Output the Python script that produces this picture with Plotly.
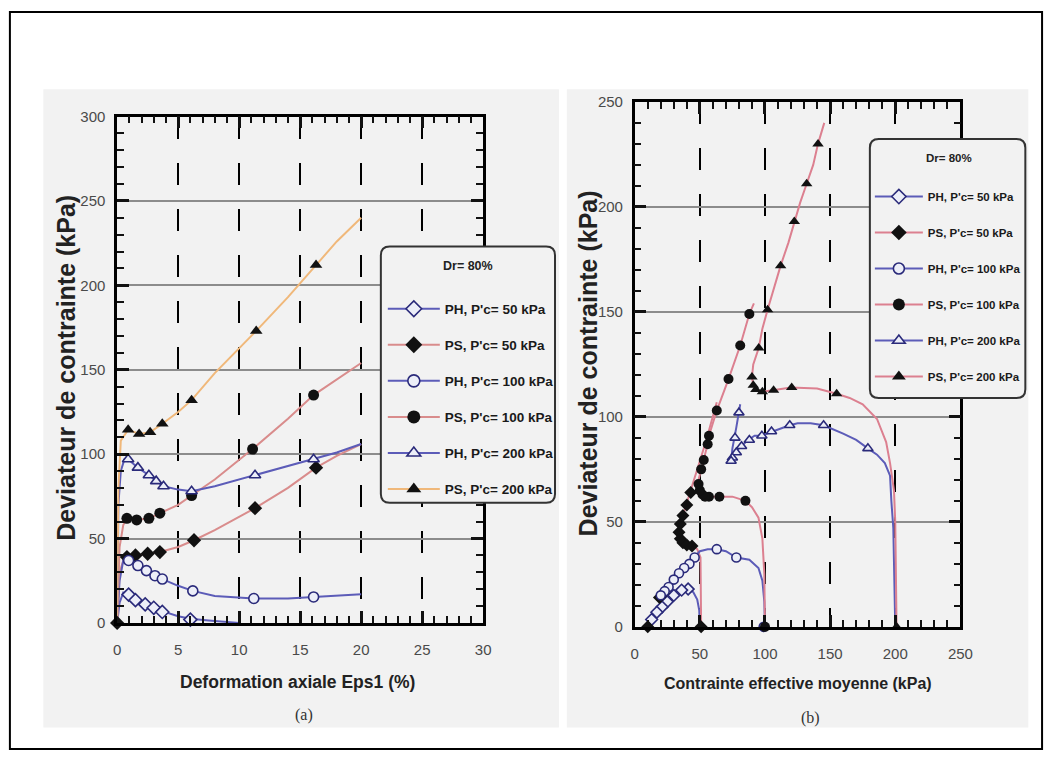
import plotly.graph_objects as go

W, H = 1059, 760

# ---------------- Panel (a): axial strain (%) vs deviator stress (kPa) ----------------
a_ph50_line_x = [0, 0.2, 0.5, 0.94, 1.5, 2.3, 3.0, 3.7, 5.0, 6.0, 7.5, 8.5, 10.0]
a_ph50_line_y = [0, 12, 18, 16.8, 14, 11.5, 9.5, 7, 4, 2.5, 1.5, 0.8, 0]
a_ph50_pts_x = [0.94, 1.5, 2.3, 3.0, 3.7, 6.0]
a_ph50_pts_y = [16.8, 13.5, 11, 9, 6.5, 2]

a_ps50_line_x = [0, 0.2, 0.5, 0.8, 1.5, 2.5, 3.5, 5.0, 6.3, 8.0, 11.3, 14.0, 16.3, 18.0, 20.0]
a_ps50_line_y = [0, 30, 37, 39, 40, 41, 42, 45, 49, 55, 68, 80, 92, 99, 106]
a_ps50_pts_x = [0, 0.8, 1.5, 2.5, 3.5, 6.3, 11.3, 16.3]
a_ps50_pts_y = [0, 39, 40, 41, 42, 49, 68, 92]

a_ph100_line_x = [0, 0.2, 0.5, 0.94, 1.7, 2.4, 3.1, 3.7, 5.0, 6.2, 8.0, 11.2, 14.0, 16.1, 18.0, 20.0]
a_ph100_line_y = [0, 25, 37, 37, 34, 31, 28, 26, 22, 19, 16, 14.5, 14.5, 15.4, 16, 17]
a_ph100_pts_x = [0.94, 1.7, 2.4, 3.1, 3.7, 6.2, 11.2, 16.1]
a_ph100_pts_y = [37, 34, 31, 28, 26, 19, 14.5, 15.4]

a_ps100_line_x = [0, 0.2, 0.5, 0.8, 1.6, 2.6, 3.5, 5.0, 6.1, 8.0, 11.1, 14.0, 16.1, 18.0, 20.0]
a_ps100_line_y = [0, 45, 58, 62, 61, 62, 65, 70, 75.5, 85, 103, 121, 135, 144, 154]
a_ps100_pts_x = [0.8, 1.6, 2.6, 3.5, 6.1, 11.1, 16.1]
a_ps100_pts_y = [62, 61, 62, 65, 75.5, 103, 135]

a_ph200_line_x = [0, 0.1, 0.3, 0.6, 0.9, 1.7, 2.6, 3.8, 5.0, 6.1, 8.0, 11.3, 14.0, 16.1, 18.0, 20.0]
a_ph200_line_y = [0, 70, 90, 97, 97, 92, 87.5, 81, 79, 78, 81, 87.5, 93, 97, 101, 106]
a_ph200_pts_x = [0.9, 1.7, 2.6, 3.2, 3.8, 6.1, 11.3, 16.1]
a_ph200_pts_y = [97, 92, 87.5, 84, 81, 78, 87.5, 97]

a_ps200_line_x = [0, 0.1, 0.3, 0.9, 1.8, 2.7, 3.7, 5.0, 6.1, 8.0, 11.4, 14.0, 16.3, 18.0, 20.0]
a_ps200_line_y = [0, 80, 108, 114.5, 112, 113, 118, 125, 132, 148, 173, 193, 212, 226, 240]
a_ps200_pts_x = [0.9, 1.8, 2.7, 3.7, 6.1, 11.4, 16.3]
a_ps200_pts_y = [114.5, 112, 113, 118, 132, 173, 212]

# ---------------- Panel (b): mean effective stress (kPa) vs deviator stress (kPa) ----------------
b_ph50_line_x = [50, 49.5, 48, 45, 41, 37, 33, 28, 22, 16, 12, 10]
b_ph50_line_y = [0, 8, 13, 16.5, 18, 18, 17, 14, 10, 6, 2.5, 0]
b_ph50_pts_x = [41, 36, 30, 25, 21, 17, 13]
b_ph50_pts_y = [18, 17.5, 15, 12, 9.5, 7, 3.5]

b_ps50_line_x = [51, 51, 50.5, 48, 44, 40, 37, 35, 34, 35, 37, 40, 43, 47, 51, 55, 59, 63]
b_ps50_line_y = [0, 15, 33, 37, 38.5, 39, 40, 42, 45, 49, 53, 58, 64, 72, 80, 89, 98, 107]
b_ps50_pts_x = [10, 51, 44, 40, 37, 35, 34, 35, 37, 40, 43, 19, 22]
b_ps50_pts_y = [0, 0, 38.5, 39, 40, 42, 45, 49, 53, 58, 64, 14, 16]

b_ph100_line_x = [100, 99.5, 98, 95, 88, 78, 70, 63, 56, 50, 44, 38, 32, 27, 22, 20]
b_ph100_line_y = [0, 12, 22, 28, 32, 33, 36, 37, 37, 36, 32, 28, 24, 20, 16, 15]
b_ph100_pts_x = [99, 78, 63, 46, 42, 38, 34, 30, 26, 23, 20]
b_ph100_pts_y = [0, 33, 37, 33, 30, 28, 25.5, 22.5, 19, 17, 15]

b_ps100_line_x = [100, 99.5, 98, 95, 90, 85, 75, 65, 57, 52, 49, 49, 51, 53, 56, 57, 63, 72, 81, 88, 91.5]
b_ps100_line_y = [0, 25, 42, 52, 57, 60, 62, 62, 62, 63, 66, 70, 75, 79.5, 87, 91, 103, 118, 134, 149, 154]
b_ps100_pts_x = [100, 85, 65, 57, 54, 52, 50, 49, 51, 53, 56, 57, 63, 72, 81, 88]
b_ps100_pts_y = [0, 60, 62, 62, 62, 63, 65, 68, 75, 79.5, 87, 91, 103, 118, 134, 149]

b_ph200_line_x = [200, 199.5, 199, 198.5, 197, 196, 192, 186, 179, 170, 160, 145, 135, 125, 119,
                  110, 105, 97, 92, 87, 80, 76, 74, 75, 78, 80, 81]
b_ph200_line_y = [0, 15, 30, 47, 60, 72, 78, 82, 85, 89, 92, 96, 97, 97, 96,
                  94, 93, 91, 91, 89, 85, 82, 79, 85, 95, 102, 106]
b_ph200_pts_x = [179, 145, 119, 105, 97.6, 88, 82, 78, 75, 74, 77, 80]
b_ph200_pts_y = [85, 96, 96, 93, 91, 89, 86, 83, 80.5, 79, 90, 102]

b_ps200_line_x = [201, 200.5, 200, 199, 196, 193, 186, 175, 165, 155, 140, 120, 106.6, 98, 93, 91,
                  90, 91, 95.2, 98, 102, 107, 112, 118, 122.5, 127, 132, 137, 140.7, 145.5]
b_ps200_line_y = [0, 25, 50, 65, 78, 88, 99, 106, 109, 111, 113.5, 114, 112.7, 112, 113, 115,
                  119, 125, 132.8, 142, 151, 162, 172, 183, 193, 202, 211, 220, 230, 240]
b_ps200_pts_x = [201, 155, 120.5, 106.6, 98, 93, 91, 90, 95.2, 102, 112, 122.5, 132, 140.7]
b_ps200_pts_y = [0, 111, 114, 112.7, 112, 113, 115, 119, 132.8, 151, 172, 193, 211, 230]

series_names = ["PH, P'c= 50 kPa", "PS, P'c= 50 kPa", "PH, P'c= 100 kPa",
                "PS, P'c= 100 kPa", "PH, P'c= 200 kPa", "PS, P'c= 200 kPa"]
series_symbols = ["diamond", "diamond", "circle", "circle", "triangle-up", "triangle-up"]
series_kind = ["PH", "PS", "PH", "PS", "PH", "PS"]
a_line_colors = ["#5c5cb8", "#d98c8c", "#5c5cb8", "#d98c8c", "#5c5cb8", "#f0b87a"]
b_line_colors = ["#5c5cb8", "#dc8090", "#5c5cb8", "#dc8090", "#5c5cb8", "#dc8090"]

a_data = [
    (a_ph50_line_x, a_ph50_line_y, a_ph50_pts_x, a_ph50_pts_y),
    (a_ps50_line_x, a_ps50_line_y, a_ps50_pts_x, a_ps50_pts_y),
    (a_ph100_line_x, a_ph100_line_y, a_ph100_pts_x, a_ph100_pts_y),
    (a_ps100_line_x, a_ps100_line_y, a_ps100_pts_x, a_ps100_pts_y),
    (a_ph200_line_x, a_ph200_line_y, a_ph200_pts_x, a_ph200_pts_y),
    (a_ps200_line_x, a_ps200_line_y, a_ps200_pts_x, a_ps200_pts_y),
]
b_data = [
    (b_ph50_line_x, b_ph50_line_y, b_ph50_pts_x, b_ph50_pts_y),
    (b_ps50_line_x, b_ps50_line_y, b_ps50_pts_x, b_ps50_pts_y),
    (b_ph100_line_x, b_ph100_line_y, b_ph100_pts_x, b_ph100_pts_y),
    (b_ps100_line_x, b_ps100_line_y, b_ps100_pts_x, b_ps100_pts_y),
    (b_ph200_line_x, b_ph200_line_y, b_ph200_pts_x, b_ph200_pts_y),
    (b_ps200_line_x, b_ps200_line_y, b_ps200_pts_x, b_ps200_pts_y),
]

PH_EDGE = "#2a2a7a"
PH_FILL = "#eceef8"
PS_FILL = "#111111"


def marker_style(i, size):
    if series_kind[i] == "PH":
        return dict(symbol=series_symbols[i], size=size, color=PH_FILL,
                    line=dict(color=PH_EDGE, width=1.6))
    return dict(symbol=series_symbols[i], size=size + 1, color=PS_FILL,
                line=dict(color=PS_FILL, width=0))


fig = go.Figure()

for panel, data, colors, xa, ya, leg, msize in [
    ("a", a_data, a_line_colors, "x", "y", "legend", 10),
    ("b", b_data, b_line_colors, "x2", "y2", "legend2", 9),
]:
    for i, (lx, ly, px_, py_) in enumerate(data):
        fig.add_trace(go.Scatter(x=lx, y=ly, mode="lines", xaxis=xa, yaxis=ya,
                                 line=dict(color=colors[i], width=2),
                                 showlegend=False, hoverinfo="skip"))
    for i, (lx, ly, px_, py_) in enumerate(data):
        fig.add_trace(go.Scatter(x=px_, y=py_, mode="markers", xaxis=xa, yaxis=ya,
                                 marker=marker_style(i, msize), cliponaxis=False,
                                 showlegend=False, hoverinfo="skip"))
    for i in range(6):
        fig.add_trace(go.Scatter(x=[None], y=[None], mode="lines+markers", xaxis=xa, yaxis=ya,
                                 name=series_names[i], legend=leg,
                                 legendgroup=panel + str(i),
                                 line=dict(color=colors[i], width=2),
                                 marker=marker_style(i, 12 if panel == "a" else 11)))

# ---------------- layout helpers ----------------
def fx(p):
    return p / W


def fy(p):
    return 1 - p / H


def rounded_box(x0, y0, x1, y1, r):
    rx, ry = r / W, r / H
    X0, X1 = fx(x0), fx(x1)
    Y0, Y1 = fy(y0), fy(y1)
    return (f"M {X0 + rx} {Y0} L {X1 - rx} {Y0} Q {X1} {Y0} {X1} {Y0 - ry} "
            f"L {X1} {Y1 + ry} Q {X1} {Y1} {X1 - rx} {Y1} "
            f"L {X0 + rx} {Y1} Q {X0} {Y1} {X0} {Y1 + ry} "
            f"L {X0} {Y0 - ry} Q {X0} {Y0} {X0 + rx} {Y0} Z")


TICKFONT = dict(family="Liberation Sans, Arial, sans-serif", size=15, color="#4a4a4a")


def axis_cfg(domain, rng, dtick, minor_dtick, anchor, gridcolor, griddash, standoff):
    return dict(domain=domain, range=rng, dtick=dtick, anchor=anchor,
                showline=True, linecolor="black", linewidth=2.5, mirror="allticks",
                ticks="inside", ticklen=12, tickwidth=2.5, tickcolor="#111111",
                minor=dict(ticks="inside", ticklen=7, tickwidth=2.2, tickcolor="#111111",
                           dtick=minor_dtick),
                showgrid=True, gridcolor=gridcolor, gridwidth=2, griddash=griddash,
                zeroline=False, tickfont=TICKFONT, ticklabelstandoff=standoff)


PANEL = "#f2f2f2"
shapes = [
    dict(type="rect", xref="paper", yref="paper", x0=fx(40), x1=fx(564), y0=fy(82), y1=fy(735),
         fillcolor=PANEL, line=dict(width=0), layer="below"),
    dict(type="rect", xref="paper", yref="paper", x0=fx(572), x1=fx(1041), y0=fy(82), y1=fy(735),
         fillcolor=PANEL, line=dict(width=0), layer="below"),
    dict(type="path", xref="paper", yref="paper", path=rounded_box(383, 243, 560, 505, 9),
         fillcolor=PANEL, line=dict(color="#333333", width=2), layer="above"),
    dict(type="path", xref="paper", yref="paper", path=rounded_box(880, 133, 1038, 398, 9),
         fillcolor=PANEL, line=dict(color="#333333", width=2), layer="above"),
    dict(type="rect", xref="paper", yref="paper", x0=fx(6), x1=fx(1055), y0=fy(3), y1=fy(757),
         line=dict(color="black", width=2), layer="above"),
]

TITLEFONT = dict(family="Liberation Sans, Arial, sans-serif", color="#222222")
annotations = [
    dict(text="<b>Deviateur de contrainte (kPa)</b>", x=fx(63), y=fy(367), textangle=-90,
         font=dict(size=25, **TITLEFONT)),
    dict(text="<b>Deviateur de contrainte (kPa)</b>", x=fx(593), y=fy(362), textangle=-90,
         font=dict(size=25, **TITLEFONT)),
    dict(text="<b>Deformation axiale Eps1 (%)</b>", x=fx(298), y=fy(688),
         font=dict(size=17.5, **TITLEFONT)),
    dict(text="<b>Contrainte effective moyenne (kPa)</b>", x=fx(807), y=fy(690),
         font=dict(size=16, **TITLEFONT)),
    dict(text="(a)", x=fx(305), y=fy(722),
         font=dict(family="Liberation Serif, Times New Roman, serif", size=16, color="#333333")),
    dict(text="(b)", x=fx(820), y=fy(725),
         font=dict(family="Liberation Serif, Times New Roman, serif", size=16, color="#333333")),
    dict(text="<b>Dr= 80%</b>", x=fx(472), y=fy(263),
         font=dict(size=12.5, **TITLEFONT)),
    dict(text="<b>Dr= 80%</b>", x=fx(960), y=fy(152),
         font=dict(size=11.5, **TITLEFONT)),
]
for a in annotations:
    a.update(xref="paper", yref="paper", showarrow=False, xanchor="center", yanchor="middle")

GRID_V = "black"
GRID_H = "#8c8c8c"
DASH = "22px,24px"

fig.update_layout(
    width=W, height=H, margin=dict(l=0, r=0, t=0, b=0),
    paper_bgcolor="white", plot_bgcolor=PANEL,
    xaxis=axis_cfg([fx(115), fx(487)], [0, 30], 5, 1, "y", GRID_V, DASH, 11),
    yaxis=axis_cfg([fy(628), fy(110)], [0, 300], 50, 10, "x", GRID_H, "solid", 6),
    xaxis2=axis_cfg([fx(641), fx(972)], [0, 250], 50, 10, "y2", GRID_V, DASH, 11),
    yaxis2=axis_cfg([fy(632), fy(95)], [0, 250], 50, 10, "x2", GRID_H, "solid", 6),
    shapes=shapes, annotations=annotations,
    legend=dict(x=fx(385), y=fy(291), xanchor="left", yanchor="top",
                bgcolor="rgba(0,0,0,0)", borderwidth=0, traceorder="grouped",
                tracegroupgap=15.5, itemwidth=52, itemclick=False, itemdoubleclick=False,
                font=dict(family="Liberation Sans, Arial, sans-serif", size=13.5, color="#1a1a1a",
                          weight="bold")),
    legend2=dict(x=fx(880), y=fy(177), xanchor="left", yanchor="top",
                 bgcolor="rgba(0,0,0,0)", borderwidth=0, traceorder="grouped",
                 tracegroupgap=17, itemwidth=48, itemclick=False, itemdoubleclick=False,
                 font=dict(family="Liberation Sans, Arial, sans-serif", size=11.5, color="#1a1a1a",
                           weight="bold")),
    showlegend=True,
)

fig.write_html("out.html")
